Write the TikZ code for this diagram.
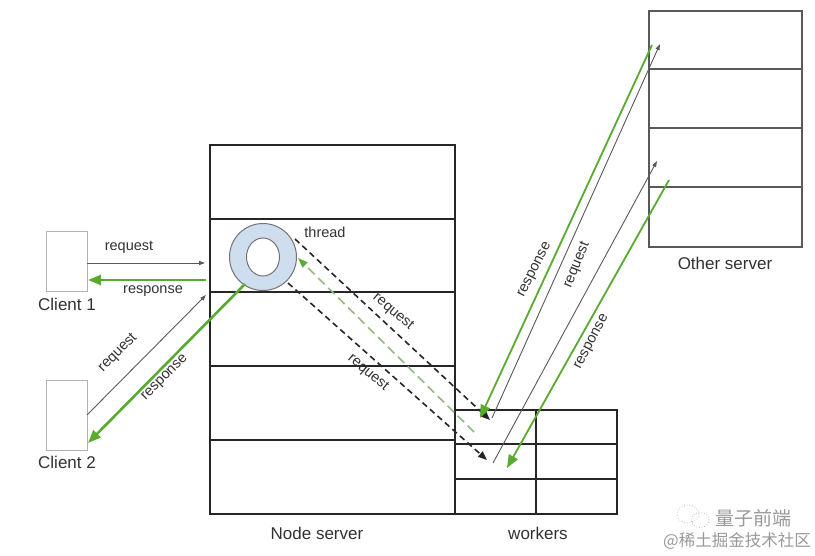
\documentclass[tikz,border=0pt]{standalone}
\usepackage{fontspec}
\setmainfont{Liberation Sans}
\newfontfamily\cjkfont{Noto Sans CJK SC}
\usetikzlibrary{arrows.meta,shapes.geometric}
\definecolor{grn}{RGB}{88,170,48}
\definecolor{grnlt}{RGB}{150,185,130}
\definecolor{threadfill}{RGB}{206,222,238}
\definecolor{txt}{RGB}{50,50,50}
\tikzset{
  srv/.style={draw=black!85, line width=1.8pt, inner sep=0pt, outer sep=0pt, anchor=north west},
  rowline/.style={draw=black!85, line width=1.8pt},
  osrv/.style={draw=black!65, line width=1.3pt, inner sep=0pt, outer sep=0pt, anchor=north west},
  orow/.style={draw=black!65, line width=1.3pt},
  cli/.style={draw=black!30, line width=1pt, inner sep=0pt, outer sep=0pt, anchor=north west},
  req/.style={draw=black!65, line width=0.9pt, -{Triangle[length=6pt,width=4pt]}},
  resp/.style={draw=grn, line width=2.6pt, -{Triangle[length=13pt,width=10pt]}},
  respthin/.style={draw=grn, line width=1.8pt, -{Triangle[length=13pt,width=10pt]}},
  dreq/.style={draw=black!85, line width=1.6pt, dash pattern=on 6pt off 4pt, -{Triangle[length=9pt,width=7pt]}},
  dresp/.style={draw=grnlt, line width=1.6pt, dash pattern=on 9pt off 5pt, -{Triangle[length=10pt,width=7pt,color=grn]}},
  lbl/.style={font=\fontsize{14.5}{14.5}\selectfont, text=txt, inner sep=0pt},
  nm/.style={font=\fontsize{17}{17}\selectfont, text=txt, inner sep=0pt},
  wm/.style={text=black!40, inner sep=0pt}
}
\begin{document}
\begin{tikzpicture}[x=1pt,y=-1pt]
\useasboundingbox[fill=white] (0,0) rectangle (815,556);

% Node server
\node[srv, minimum width=245pt, minimum height=369pt] (ns) at (210,145) {};
\foreach \yy in {219,292,366,440} \draw[rowline] (210,\yy) -- (455,\yy);
\node[nm] (nslbl) at (317,533) {Node server};

% workers
\node[srv, minimum width=162pt, minimum height=104pt] (wk) at (455,410) {};
\foreach \yy in {444,479} \draw[rowline] (455,\yy) -- (617,\yy);
\draw[rowline] (536,410) -- (536,514);
\node[nm] (wklbl) at (538,533) {workers};

% Other server
\node[osrv, minimum width=153pt, minimum height=236pt] (os) at (649,11) {};
\foreach \yy in {69,128,187} \draw[orow] (649,\yy) -- (802,\yy);
\node[nm] (oslbl) at (725,263) {Other server};

% Clients
\node[cli, minimum width=41pt, minimum height=60pt] (c1) at (46,232) {};
\node[nm] (c1lbl) at (67,304) {Client 1};
\node[cli, minimum width=41pt, minimum height=69pt] (c2) at (46,381) {};
\node[nm] (c2lbl) at (67,462) {Client 2};

% Thread
\node[circle, draw=black!55, line width=1pt, fill=threadfill, minimum size=67pt, inner sep=0pt] (th) at (263,257) {};
\node[ellipse, draw=black!55, line width=1pt, fill=white, minimum width=33pt, minimum height=38pt, inner sep=0pt] (thin) at (263,257) {};
\node[lbl] (thlbl) at (325,232) {thread};

% endpoints
\coordinate (c1out) at (87,263);
\coordinate (nsin1) at (205,263);
\coordinate (nsout1) at (206,280);
\coordinate (c1in) at (88,280);
\coordinate (c2out) at (87,415);
\coordinate (nsin2) at (206,295);
\coordinate (thout) at (245,284);
\coordinate (c2in) at (88,443);

\coordinate (thd1) at (295,239);
\coordinate (wk1) at (490,420);
\coordinate (thd2) at (288,283);
\coordinate (wk2) at (487,460);
\coordinate (wkr) at (474,432);
\coordinate (thr) at (298,258);

\coordinate (os1out) at (652,45);
\coordinate (wk1in) at (480,418);
\coordinate (wk1out) at (492,418);
\coordinate (os1in) at (660,44);
\coordinate (wk2out) at (493,463);
\coordinate (os2in) at (657,161);
\coordinate (os2out) at (669,180);
\coordinate (wk2in) at (507,468);

% client 1
\draw[req] (c1out) -- (nsin1);
\node[lbl] (l1) at (129,247) {request};
\draw[resp] (nsout1) -- (c1in);
\node[lbl] (l2) at (153,291) {response};

% client 2
\draw[req] (c2out) -- (nsin2);
\node[lbl, rotate=45] (l3) at (118,353) {request};
\draw[resp] (thout) -- (c2in);
\node[lbl, rotate=45] (l4) at (165,378) {response};

% thread <-> workers
\draw[dreq] (thd1) -- (wk1);
\draw[dreq] (thd2) -- (wk2);
\draw[dresp] (wkr) -- (thr);
\node[lbl, rotate=-40] (l5) at (393,312) {request};
\node[lbl, rotate=-40] (l6) at (368,373) {request};

% workers <-> other server
\draw[respthin] (os1out) -- (wk1in);
\draw[req] (wk1out) -- (os1in);
\draw[req] (wk2out) -- (os2in);
\draw[respthin] (os2out) -- (wk2in);
\node[lbl, rotate=63] (l7) at (535,270) {response};
\node[lbl, rotate=68] (l8) at (577,265) {request};
\node[lbl, rotate=62] (l9) at (592,342) {response};

% watermark
\draw[black!30, line width=0.7pt, dotted] (688,514) ellipse (11pt and 9pt);
\draw[black!30, line width=0.7pt, dotted] (700,520) ellipse (9pt and 7.5pt);
\node[wm, font=\cjkfont\fontsize{19}{19}\selectfont] (wm1) at (753,518) {量子前端};
\node[wm, font=\cjkfont\fontsize{16.5}{16.5}\selectfont] (wm2) at (737,541) {@稀土掘金技术社区};
\end{tikzpicture}
\end{document}
